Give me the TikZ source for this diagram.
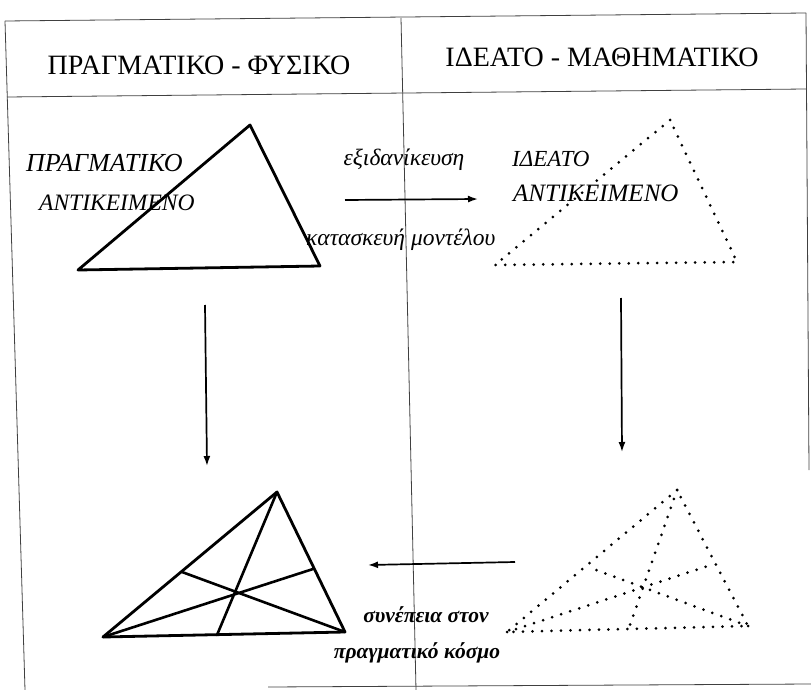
\documentclass[tikz,border=0pt]{standalone}
\usepackage{fontspec}
\setmainfont{Liberation Serif}
\usetikzlibrary{arrows.meta}
\begin{document}
\begin{tikzpicture}[x=1pt,y=-1pt,
  frame/.style={line width=0.8pt,black!75},
  hdr/.style={font=\fontsize{28}{30}\selectfont,inner sep=0pt},
  lab/.style={font=\fontsize{24}{26}\selectfont\itshape,inner sep=0pt},
  glab/.style={font=\fontsize{23.5}{26}\selectfont\itshape,inner sep=0pt},
  blab/.style={font=\fontsize{21.5}{24}\selectfont\itshape\bfseries,inner sep=0pt},
  soltri/.style={line width=2.8pt,line join=round},
  soltrix/.style={line width=2.6pt,line cap=round},
  dottri/.style={line width=3pt,line cap=round,dash pattern=on 0pt off 9.5pt},
  arr/.style={line width=1.7pt,-{Latex[length=10pt,width=7pt]}}]
\useasboundingbox (0,0) rectangle (811,690);
% frame
\coordinate (tl) at (5,21);
\coordinate (tr) at (806,13);
\coordinate (sl) at (7,97);
\coordinate (sr) at (806,89);
\coordinate (bl) at (25,690);
\coordinate (mt) at (401,18);
\coordinate (mb) at (416,690);
\coordinate (rb) at (809,470);
\coordinate (b1) at (268,687);
\coordinate (b2) at (811,684);
\draw[frame] (tl) -- (tr);
\draw[frame] (sl) -- (sr);
\draw[frame] (tl) -- (bl);
\draw[frame] (mt) -- (mb);
\draw[frame] (tr) -- (rb);
\draw[frame] (b1) -- (b2);
% headers
\node[hdr] (h1) at (199,65) {ΠΡΑΓΜΑΤΙΚΟ - ΦΥΣΙΚΟ};
\node[hdr] (h2) at (602,57) {ΙΔΕΑΤΟ - ΜΑΘΗΜΑΤΙΚΟ};
% top-left real triangle
\coordinate (A1) at (250,125);
\coordinate (B1) at (78,270);
\coordinate (C1) at (320,266);
\draw[soltri] (A1) -- (B1) -- (C1) -- cycle;
\node[lab,anchor=west,font=\fontsize{26}{28}\selectfont\itshape] (r1) at (26,163) {ΠΡΑΓΜΑΤΙΚΟ};
\node[lab,anchor=west,font=\fontsize{23.5}{26}\selectfont\itshape] (r2) at (39,203) {ΑΝΤΙΚΕΙΜΕΝΟ};
% top-right ideal triangle
\coordinate (A2) at (670,120);
\coordinate (B2) at (495,265);
\coordinate (C2) at (737,262);
\draw[dottri] (A2) -- (B2) -- (C2) -- cycle;
\node[lab,anchor=west,font=\fontsize{23}{25}\selectfont\itshape] (i1) at (512,159) {ΙΔΕΑΤΟ};
\node[lab,anchor=west,font=\fontsize{25}{27}\selectfont\itshape] (i2) at (513,193) {ΑΝΤΙΚΕΙΜΕΝΟ};
% top arrow
\coordinate (ta1) at (345,200);
\coordinate (ta2) at (478,199);
\draw[arr] (ta1) -- (ta2);
\node[glab] (e1) at (404,160) {εξιδανίκευση};
\node[glab,anchor=west] (e2) at (306,240) {κατασκευή μοντέλου};
% vertical arrows
\coordinate (la1) at (205,305);
\coordinate (la2) at (207,466);
\draw[arr] (la1) -- (la2);
\coordinate (ra1) at (621,298);
\coordinate (ra2) at (622,452);
\draw[arr] (ra1) -- (ra2);
% bottom arrow
\coordinate (ba1) at (515,562);
\coordinate (ba2) at (368,565);
\draw[arr] (ba1) -- (ba2);
\node[blab] (c1) at (426,615) {συνέπεια στον};
\node[blab] (c2) at (417,653) {πραγματικό κόσμο};
% bottom-left triangle with cevians
\coordinate (A3) at (277,492);
\coordinate (B3) at (103,637);
\coordinate (C3) at (345,632);
\coordinate (P3) at (182,572);
\coordinate (Q3) at (313,569);
\coordinate (R3) at (217,635);
\draw[soltri] (A3) -- (B3) -- (C3) -- cycle;
\draw[soltrix] (A3) -- (R3);
\draw[soltrix] (B3) -- (Q3);
\draw[soltrix] (C3) -- (P3);
% bottom-right dotted triangle with cevians
\coordinate (A4) at (677,490);
\coordinate (B4) at (507,632);
\coordinate (C4) at (748,626);
\coordinate (P4) at (588,567);
\coordinate (Q4) at (711,565);
\coordinate (R4) at (630,625);
\draw[dottri] (A4) -- (B4) -- (C4) -- cycle;
\draw[dottri] (A4) -- (R4);
\draw[dottri] (B4) -- (Q4);
\draw[dottri] (C4) -- (P4);
\end{tikzpicture}
\end{document}
